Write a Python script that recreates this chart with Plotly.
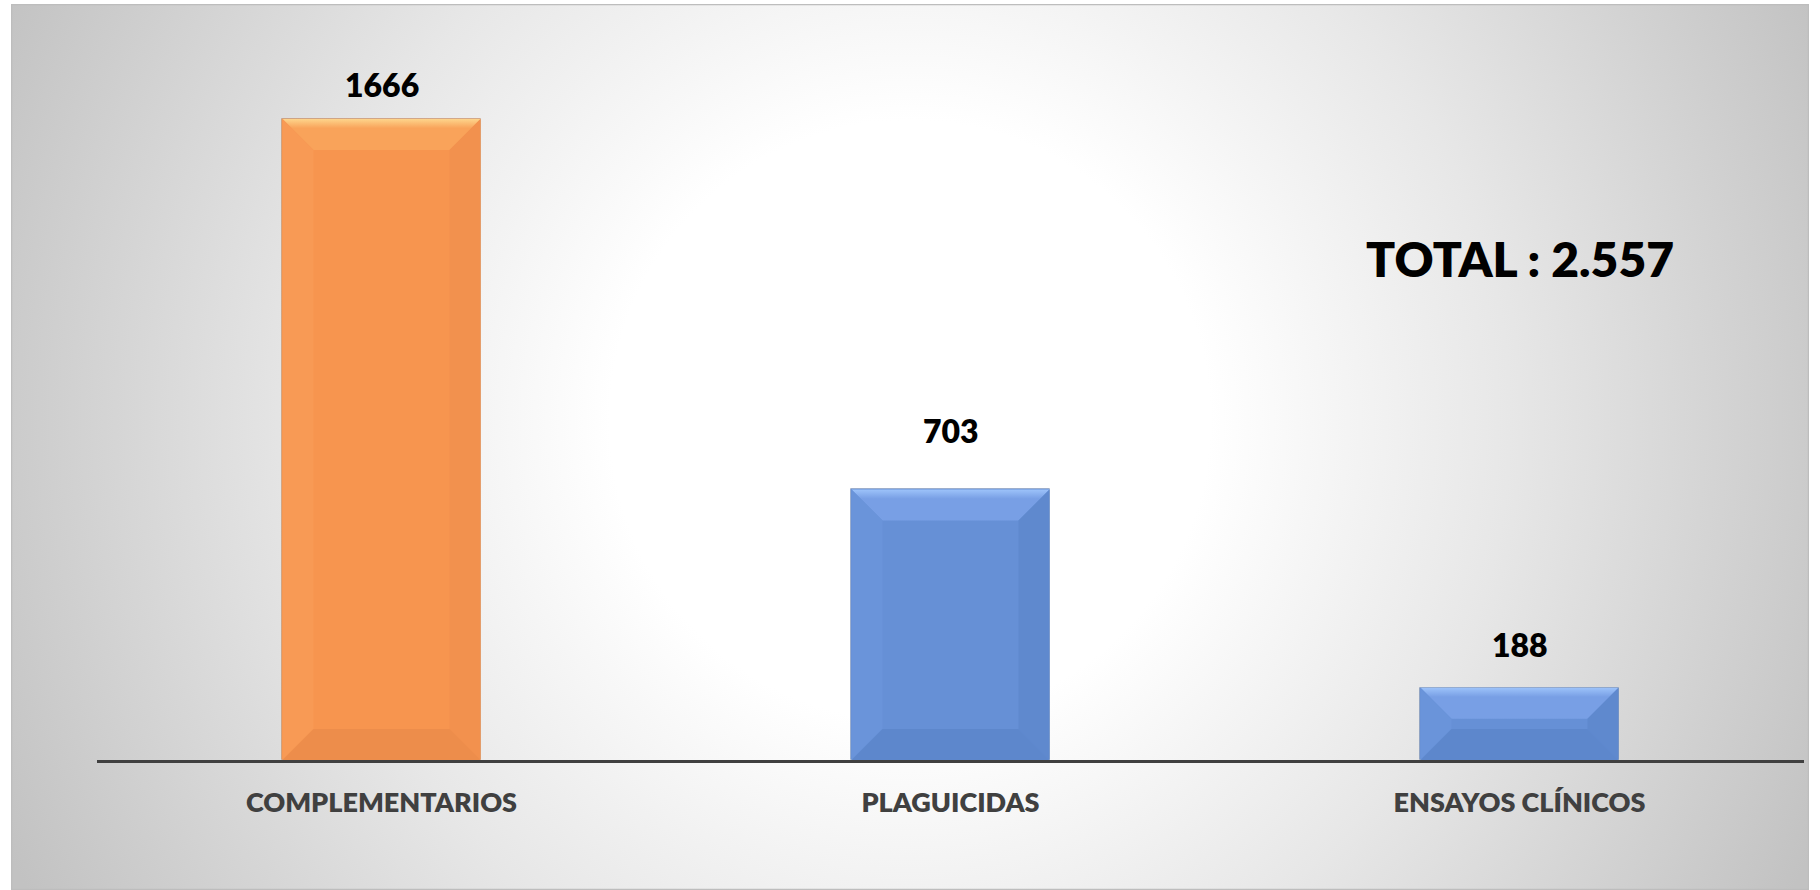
import base64
import plotly.graph_objects as go

# ---------------- data ----------------
categories = ["COMPLEMENTARIOS", "PLAGUICIDAS", "ENSAYOS CLÍNICOS"]
values = [1666, 703, 188]
total_label = "TOTAL : 2.557"

# ---------------- styles ----------------
W, H = 1820, 890
ML, MR, MT, MB = 97, 16, 40, 130
PW, PH = W - ML - MR, H - MT - MB
YMAX = 1871
BAR_W = 0.348
BEVEL_PX = 31
label_offset_px = [34, 59, 43]

orange = dict(face="#F7954F", top_hi="#FDD58C", top_lo="#F9A35A", left="#F89A55",
              right="#F2914E", bottom="#ED8D4B")
blue = dict(face="#6690D6", top_hi="#9DC3FA", top_lo="#789FE5", left="#6A94DA",
            right="#5F89CE", bottom="#5D87CC")
palettes = [orange, blue, blue]

px_per_x = PW / 3.0
px_per_y = PH / YMAX

fig = go.Figure()

xs = list(range(len(categories)))
fig.add_trace(go.Bar(
    x=xs, y=values, width=BAR_W,
    marker=dict(color=[p["face"] for p in palettes],
                line=dict(color="rgba(0,0,0,0.12)", width=1)),
    hoverinfo="skip", showlegend=False,
))

# bevel facets derived from the bar values
for i, v in enumerate(values):
    p = palettes[i]
    x0, x1 = i - BAR_W / 2, i + BAR_W / 2
    h_px = v * px_per_y
    d = min(BEVEL_PX, h_px / 2)
    bx, by = d / px_per_x, d / px_per_y
    facets = [
        ([x0, x1, x1 - bx, x0 + bx, x0], [v, v, v - by, v - by, v], None),
        ([x0, x0, x0 + bx, x0 + bx, x0], [0, v, v - by, by, 0], p["left"]),
        ([x1, x1, x1 - bx, x1 - bx, x1], [0, v, v - by, by, 0], p["right"]),
        ([x0, x1, x1 - bx, x0 + bx, x0], [0, 0, by, by, 0], p["bottom"]),
    ]
    for fxs, fys, col in facets:
        kw = dict(x=fxs, y=fys, mode="lines", line=dict(width=0),
                  fill="toself", hoverinfo="skip", showlegend=False)
        if col is None:
            kw["fillgradient"] = dict(type="vertical",
                                      colorscale=[[0, p["top_lo"]], [0.7, p["top_lo"]], [1, p["top_hi"]]])
        else:
            kw["fillcolor"] = col
        fig.add_trace(go.Scatter(**kw))

# value labels
for i, v in enumerate(values):
    fig.add_annotation(x=i, y=v, xref="x", yref="y", text=str(v),
                       showarrow=False, yanchor="middle", yshift=label_offset_px[i],
                       font=dict(family="Lato", size=32, color="#000000", weight=800))

# total
fig.add_annotation(x=2, y=(H - MB - 258) / PH, xref="x", yref="paper", text=total_label,
                   showarrow=False, xanchor="center", yanchor="middle",
                   font=dict(family="Lato", size=48, color="#000000", weight=800))

# background: radial gradient frame
fx0, fy0, fx1, fy1 = 11, 4, 1809, 890
fw, fh = fx1 - fx0, fy1 - fy0
svg = f'''<svg xmlns="http://www.w3.org/2000/svg" width="{fw}" height="{fh}" viewBox="0 0 {fw} {fh}" preserveAspectRatio="none">
<defs><radialGradient id="g" gradientUnits="userSpaceOnUse" cx="{fw*0.5}" cy="{fh*0.47}" r="1000">
<stop offset="0" stop-color="#ffffff"/><stop offset="0.3" stop-color="#ffffff"/>
<stop offset="0.6" stop-color="#e7e7e7"/><stop offset="1" stop-color="#c2c2c2"/></radialGradient></defs>
<rect x="0" y="0" width="{fw}" height="{fh}" fill="url(#g)"/>
<rect x="0.5" y="0.5" width="{fw-1}" height="{fh-1}" fill="none" stroke="#bdbdbd" stroke-width="1.5"/>
</svg>'''
src = "data:image/svg+xml;base64," + base64.b64encode(svg.encode()).decode()
fig.add_layout_image(source=src, xref="paper", yref="paper",
                     x=(fx0 - ML) / PW, y=(H - MB - fy0) / PH,
                     sizex=fw / PW, sizey=fh / PH, xanchor="left", yanchor="top",
                     sizing="stretch", layer="below")

fig.update_layout(
    width=W, height=H,
    margin=dict(l=ML, r=MR, t=MT, b=MB),
    paper_bgcolor="#ffffff", plot_bgcolor="rgba(0,0,0,0)",
    showlegend=False, bargap=0,
    xaxis=dict(range=[-0.5, 2.5], tickvals=xs, ticktext=categories,
               showgrid=False, zeroline=False, showline=True,
               linecolor="#404040", linewidth=3, ticks="", ticklabelstandoff=17,
               tickfont=dict(family="Lato", size=27, color="#404040", weight=800),
               fixedrange=True),
    yaxis=dict(range=[0, YMAX], visible=False, showgrid=False, zeroline=False,
               fixedrange=True),
)

fig.write_html("out.html", config={"displayModeBar": False},
               post_script="document.body.style.margin='0';document.body.style.overflow='hidden';")
